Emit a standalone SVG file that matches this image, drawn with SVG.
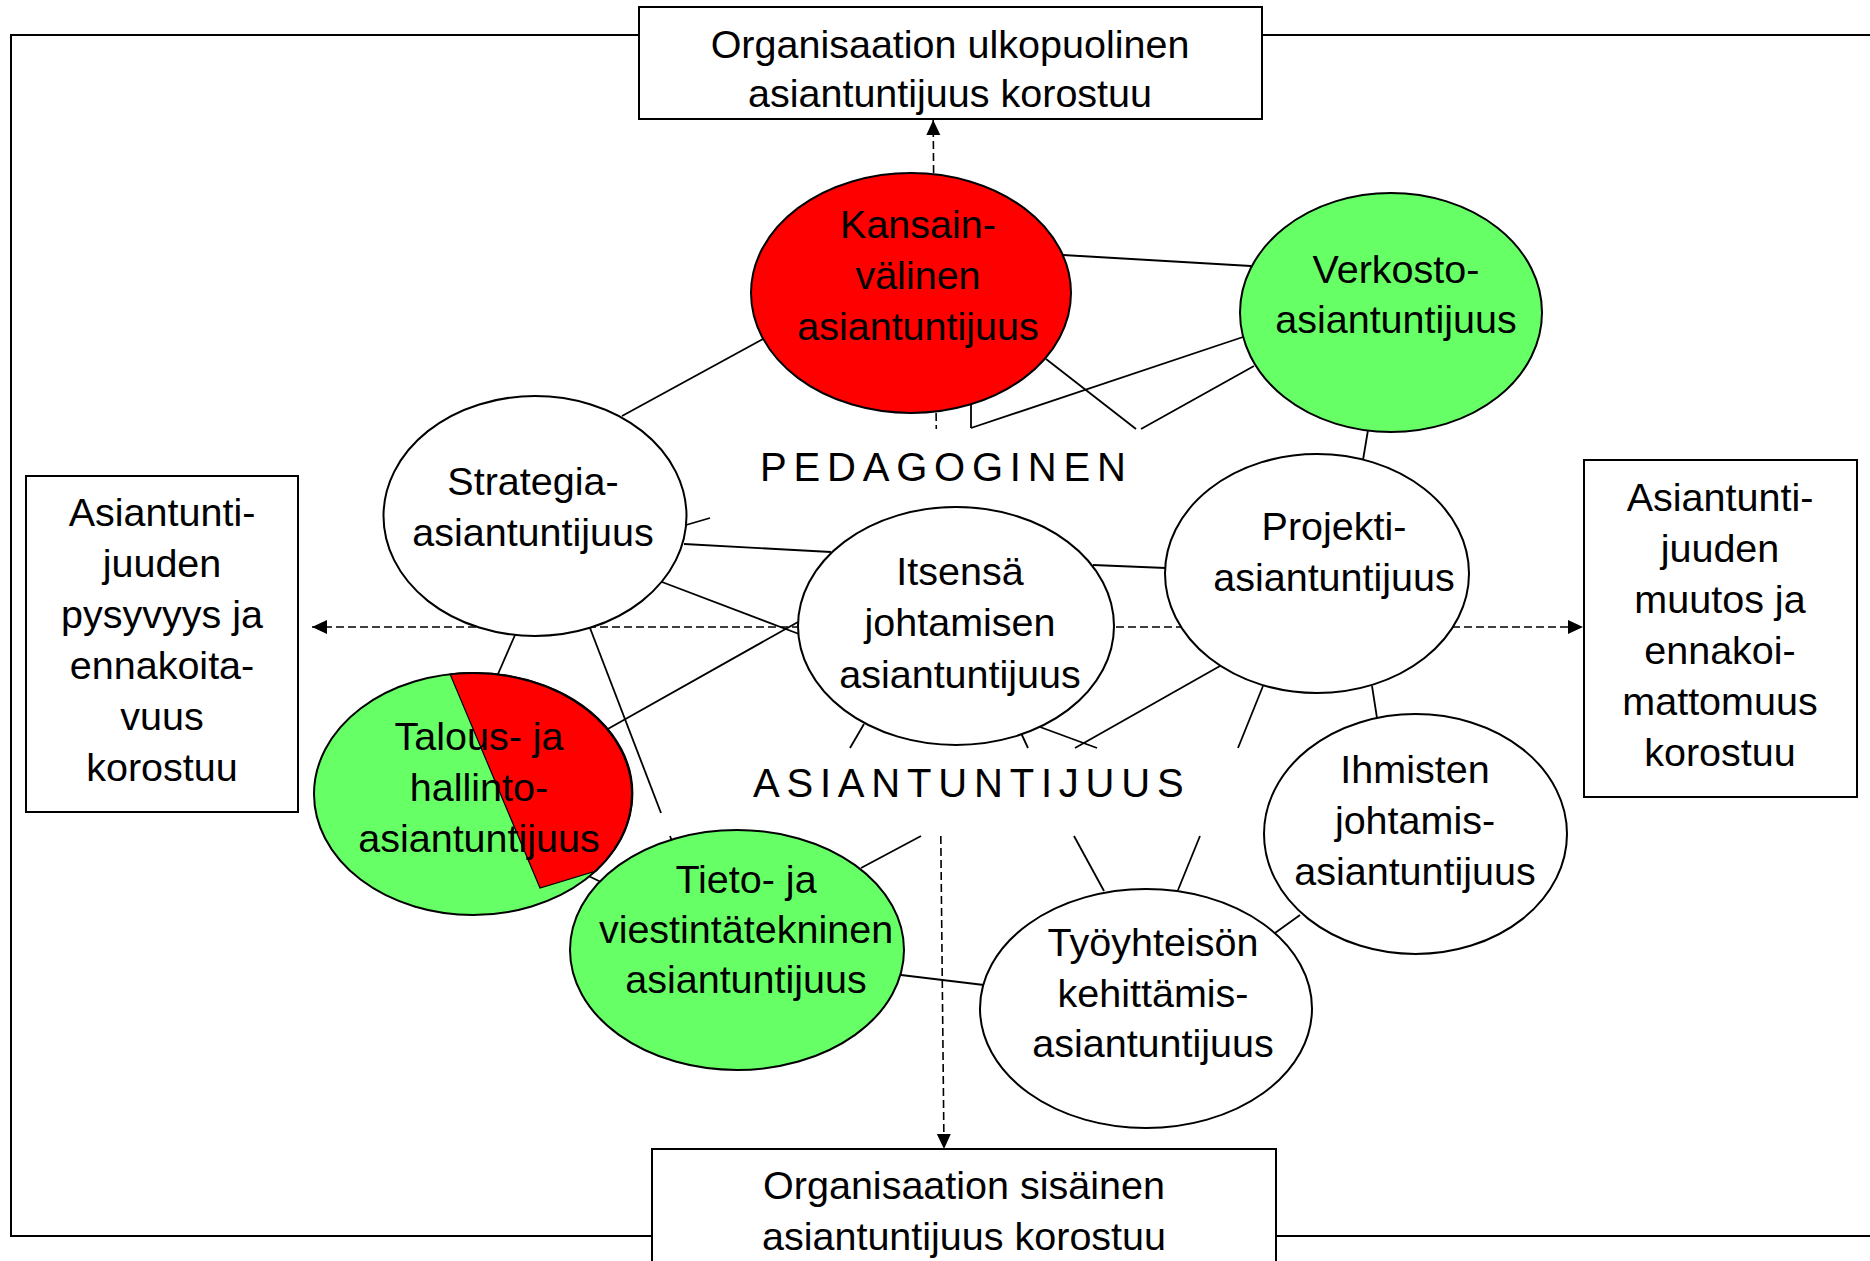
<svg xmlns="http://www.w3.org/2000/svg" width="1870" height="1261" viewBox="0 0 1870 1261">
<style>
.frame{fill:none;stroke:#000;stroke-width:2}
.box{fill:#fff;stroke:#000;stroke-width:2}
.n{stroke:#000;stroke-width:2}
.w{fill:#fff}
.red{fill:#ff0000}
.green{fill:#66ff66}
.c{stroke:#000;stroke-width:1.8;fill:none}
.d{stroke:#000;stroke-width:1.6;stroke-dasharray:8 4;fill:none}
text{font-family:"Liberation Sans",Arial,sans-serif;font-size:39.5px;text-anchor:middle;fill:#000}
.lbl{font-size:40px;text-anchor:start;letter-spacing:6.8px}
</style>
<defs>
<marker id="ah" markerUnits="userSpaceOnUse" markerWidth="16" markerHeight="16" refX="15" refY="7" orient="auto-start-reverse" viewBox="0 0 16 16">
<path d="M0,0 L15,7 L0,14 Z" fill="#000"/>
</marker>
</defs>
<rect width="1870" height="1261" fill="#fff"/>
<path class="frame" d="M639,35 H11 V1236 H652 M1276,1236 H1872 M1262,35 H1872"/>

<g id="connectors">
<line class="c" x1="622" y1="416" x2="763" y2="339"/>
<line class="c" x1="1063" y1="255" x2="1251" y2="266"/>
<line class="c" x1="1046" y1="359" x2="1136" y2="429"/>
<line class="c" x1="1254" y1="366" x2="1141" y2="429"/>
<line class="c" x1="1243" y1="337" x2="971" y2="428"/>
<line class="c" x1="971" y1="403" x2="971" y2="428"/>
<line class="c" x1="1368" y1="430" x2="1363" y2="460"/>
<line class="c" x1="686" y1="525" x2="710" y2="518"/>
<line class="c" x1="684" y1="544" x2="831" y2="552"/>
<line class="c" x1="662" y1="582" x2="799" y2="634"/>
<line class="c" x1="606" y1="730" x2="798" y2="622"/>
<line class="c" x1="515" y1="635" x2="498" y2="674"/>
<line class="c" x1="590" y1="628" x2="661" y2="813"/>
<line class="c" x1="670" y1="836" x2="672" y2="841"/>
<line class="c" x1="578" y1="871" x2="601" y2="882"/>
<line class="c" x1="861" y1="868" x2="921" y2="836"/>
<line class="c" x1="901" y1="975" x2="984" y2="985"/>
<line class="c" x1="864" y1="724" x2="850" y2="748"/>
<line class="c" x1="1021" y1="733" x2="1028" y2="748"/>
<line class="c" x1="1040" y1="727" x2="1097" y2="748"/>
<line class="c" x1="1220" y1="666" x2="1075" y2="748"/>
<line class="c" x1="1263" y1="686" x2="1238" y2="748"/>
<line class="c" x1="1372" y1="686" x2="1377" y2="718"/>
<line class="c" x1="1093" y1="565" x2="1166" y2="568"/>
<line class="c" x1="1074" y1="836" x2="1104" y2="891"/>
<line class="c" x1="1200" y1="836" x2="1178" y2="890"/>
<line class="c" x1="1300" y1="915" x2="1275" y2="933"/>
<line class="d" x1="312" y1="627" x2="1583" y2="627" marker-start="url(#ah)" marker-end="url(#ah)"/>
<line class="d" x1="933.6" y1="173" x2="933.2" y2="120" marker-end="url(#ah)"/>
<line class="d" x1="936.1" y1="413" x2="936.3" y2="429"/>
<line class="d" x1="940.8" y1="836" x2="944" y2="1149" marker-end="url(#ah)"/>
</g>

<g id="box-ulkopuolinen">
<rect class="box" x="639" y="7" width="623" height="112"/>
<text x="950" y="58">Organisaation ulkopuolinen</text>
<text x="950" y="107">asiantuntijuus korostuu</text>
</g>
<g id="box-sisainen">
<rect class="box" x="652" y="1149" width="624" height="130"/>
<text x="964" y="1199">Organisaation sisäinen</text>
<text x="964" y="1250">asiantuntijuus korostuu</text>
</g>
<g id="box-pysyvyys">
<rect class="box" x="26" y="476" width="272" height="336"/>
<text x="162" y="526">Asiantunti-</text>
<text x="162" y="577">juuden</text>
<text x="162" y="628">pysyvyys ja</text>
<text x="162" y="679">ennakoita-</text>
<text x="162" y="730">vuus</text>
<text x="162" y="781">korostuu</text>
</g>
<g id="box-muutos">
<rect class="box" x="1584" y="460" width="273" height="337"/>
<text x="1720" y="511">Asiantunti-</text>
<text x="1720" y="562">juuden</text>
<text x="1720" y="613">muutos ja</text>
<text x="1720" y="664">ennakoi-</text>
<text x="1720" y="715">mattomuus</text>
<text x="1720" y="766">korostuu</text>
</g>

<g id="node-kansainvalinen">
<ellipse class="n red" cx="911" cy="293" rx="160" ry="120"/>
<text x="918" y="238">Kansain-</text>
<text x="918" y="289">välinen</text>
<text x="918" y="340">asiantuntijuus</text>
</g>
<g id="node-verkosto">
<ellipse class="n green" cx="1391" cy="312.5" rx="151" ry="119.5"/>
<text x="1396" y="283">Verkosto-</text>
<text x="1396" y="333">asiantuntijuus</text>
</g>
<g id="node-strategia">
<ellipse class="n w" cx="535" cy="516" rx="151.5" ry="120"/>
<text x="533" y="495">Strategia-</text>
<text x="533" y="546">asiantuntijuus</text>
</g>
<g id="node-itsensa">
<ellipse class="n w" cx="956" cy="626" rx="158" ry="119"/>
<text x="960" y="585">Itsensä</text>
<text x="960" y="636">johtamisen</text>
<text x="960" y="688">asiantuntijuus</text>
</g>
<g id="node-projekti">
<ellipse class="n w" cx="1317" cy="573.5" rx="152" ry="119.5"/>
<text x="1334" y="540">Projekti-</text>
<text x="1334" y="591">asiantuntijuus</text>
</g>
<g id="node-talous">
<ellipse class="green" cx="473" cy="794" rx="159" ry="121"/>
<path class="red" d="M450,674 A159,121 0 0,1 596,871 L540,888 Z" stroke="#000" stroke-width="1.2"/>
<ellipse class="n" fill="none" cx="473" cy="794" rx="159" ry="121"/>
<text x="479" y="750">Talous- ja</text>
<text x="479" y="801">hallinto-</text>
<text x="479" y="852">asiantuntijuus</text>
</g>
<g id="node-tieto">
<ellipse class="n green" cx="737" cy="950" rx="167" ry="120"/>
<text x="746" y="893">Tieto- ja</text>
<text x="746" y="943">viestintätekninen</text>
<text x="746" y="993">asiantuntijuus</text>
</g>
<g id="node-ihmisten">
<ellipse class="n w" cx="1415.5" cy="834" rx="151.5" ry="120"/>
<text x="1415" y="783">Ihmisten</text>
<text x="1415" y="834">johtamis-</text>
<text x="1415" y="885">asiantuntijuus</text>
</g>
<g id="node-tyoyhteison">
<ellipse class="n w" cx="1146" cy="1008.5" rx="166" ry="119.5"/>
<text x="1153" y="956">Työyhteisön</text>
<text x="1153" y="1007">kehittämis-</text>
<text x="1153" y="1057">asiantuntijuus</text>
</g>

<g id="labels">
<text class="lbl" x="760" y="481">PEDAGOGINEN</text>
<text class="lbl" x="753" y="797">ASIANTUNTIJUUS</text>
</g>
</svg>
